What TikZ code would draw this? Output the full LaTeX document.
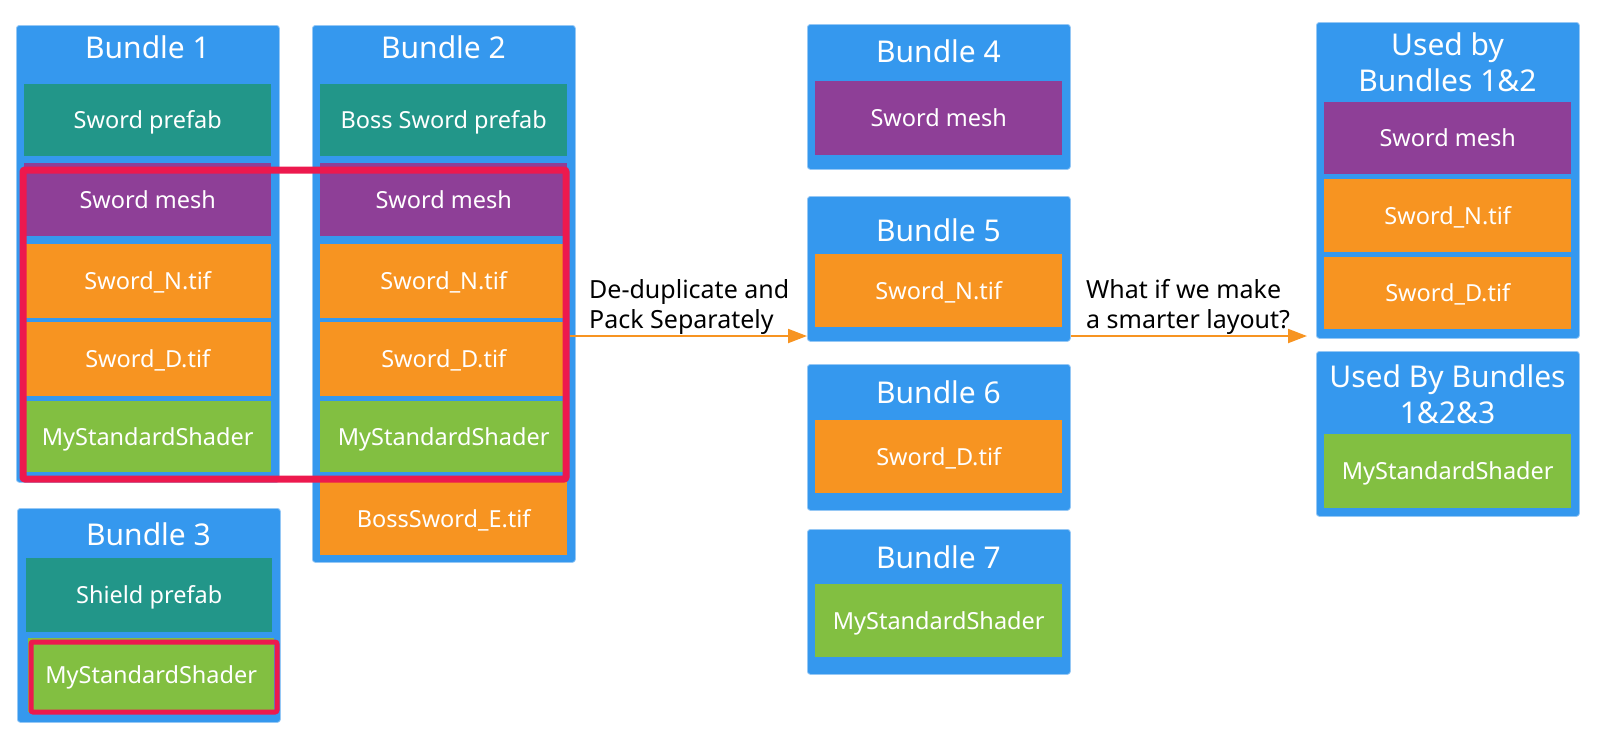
\documentclass[tikz,border=0pt]{standalone}
\usepackage{fontspec}
\setmainfont{Noto Sans}
\usetikzlibrary{arrows.meta}
\definecolor{bblue}{RGB}{53,152,238}
\definecolor{bedge}{RGB}{150,200,245}
\definecolor{cteal}{RGB}{34,150,137}
\definecolor{cpurple}{RGB}{142,63,151}
\definecolor{corange}{RGB}{247,148,33}
\definecolor{cgreen}{RGB}{130,191,65}
\definecolor{cred}{RGB}{237,25,78}
\newcommand\itemf{\fontsize{23.5}{28}\selectfont}
\newcommand\titlef{\fontsize{30}{36}\selectfont}
\newcommand\labelf{\fontsize{25}{30}\selectfont}
\begin{document}
\begin{tikzpicture}[x=1pt,y=-1pt,
  bundle/.style={anchor=north west, inner sep=0pt, fill=bblue, draw=bedge, line width=0.8pt, rounded corners=3pt, minimum width=263pt},
  item/.style={anchor=north west, inner sep=0pt, text=white, font=\itemf, text height=16.8pt, text depth=0pt, minimum width=247pt},
  teal/.style={item, fill=cteal},
  purple/.style={item, fill=cpurple},
  orange/.style={item, fill=corange},
  green/.style={item, fill=cgreen},
  title/.style={anchor=base, inner sep=0pt, text=white, font=\titlef},
  mtitle/.style={anchor=center, inner sep=0pt, text=white, font=\titlef, align=center},
  lbl/.style={anchor=west, inner sep=0pt, text=black, font=\labelf, align=left},
  redbox/.style={anchor=north west, inner sep=0pt, draw=cred, rounded corners=2pt},
  arr/.style={draw=corange, line width=2pt, -{Triangle[length=19pt,width=14pt]}}
]
\useasboundingbox (0,0) rectangle (1599,740);

% ---- Bundle 1
\node[bundle, minimum height=457pt] (b1) at (16,25) {};
\node[title] (b1t) at (147.5,58) {Bundle 1};
\node[teal, minimum height=72pt] (b1a) at (24,84) {Sword prefab};
\node[purple, minimum height=73pt] (b1b) at (24,163) {Sword mesh};
\node[orange, minimum height=74pt] (b1c) at (24,244) {Sword\_N.tif};
\node[orange, minimum height=74pt] (b1d) at (24,322) {Sword\_D.tif};
\node[green, minimum height=71pt] (b1e) at (24,401) {MyStandardShader};

% ---- Bundle 2
\node[bundle, minimum height=537pt] (b2) at (312,25) {};
\node[title] (b2t) at (443.5,58) {Bundle 2};
\node[teal, minimum height=72pt] (b2a) at (320,84) {Boss Sword prefab};
\node[purple, minimum height=73pt] (b2b) at (320,163) {Sword mesh};
\node[orange, minimum height=74pt] (b2c) at (320,244) {Sword\_N.tif};
\node[orange, minimum height=74pt] (b2d) at (320,322) {Sword\_D.tif};
\node[green, minimum height=71pt] (b2e) at (320,401) {MyStandardShader};
\node[orange, minimum height=73pt] (b2f) at (320,482) {BossSword\_E.tif};

% ---- Bundle 3
\node[bundle, minimum height=214pt] (b3) at (17,508) {};
\node[title] (b3t) at (148.5,545.5) {Bundle 3};
\node[teal, minimum height=74pt, minimum width=246pt] (b3a) at (26,558) {Shield prefab};
\node[green, minimum height=74pt, minimum width=246pt] (b3b) at (28,638) {MyStandardShader};

% ---- red highlight boxes
\node[redbox, line width=7pt, minimum width=543pt, minimum height=309pt] (red1) at (19.5,166.5) {};
\node[redbox, line width=5pt, minimum width=246pt, minimum height=70pt] (red2) at (28.5,639.5) {};

% ---- Bundles 4-7
\node[bundle, minimum height=145pt] (b4) at (807,24) {};
\node[title] (b4t) at (938.5,62) {Bundle 4};
\node[purple, minimum height=74pt] (b4a) at (815,81) {Sword mesh};

\node[bundle, minimum height=145pt] (b5) at (807,196) {};
\node[title] (b5t) at (938.5,241.5) {Bundle 5};
\node[orange, minimum height=73pt] (b5a) at (815,254) {Sword\_N.tif};

\node[bundle, minimum height=146pt] (b6) at (807,364) {};
\node[title] (b6t) at (938.5,403) {Bundle 6};
\node[orange, minimum height=73pt] (b6a) at (815,420) {Sword\_D.tif};

\node[bundle, minimum height=145pt] (b7) at (807,529) {};
\node[title] (b7t) at (938.5,568) {Bundle 7};
\node[green, minimum height=73pt] (b7a) at (815,584) {MyStandardShader};

% ---- Shared bundles
\node[bundle, minimum height=316pt] (ua) at (1316,22) {};
\node[mtitle] (uat) at (1447.5,62.5) {Used by\\Bundles 1\&2};
\node[purple, minimum height=72pt] (uaa) at (1324,102) {Sword mesh};
\node[orange, minimum height=73pt] (uab) at (1324,179) {Sword\_N.tif};
\node[orange, minimum height=72pt] (uac) at (1324,257) {Sword\_D.tif};

\node[bundle, minimum height=165pt] (ub) at (1316,351) {};
\node[mtitle] (ubt) at (1447.5,394.5) {Used By Bundles\\1\&2\&3};
\node[green, minimum height=74pt] (uba) at (1324,434) {MyStandardShader};

% ---- connectors
\coordinate (ay) at (0,336);
\draw[arr] (red1.east |- ay) -- (b5.west |- ay);
\draw[arr, shorten >=9pt] (b5.east |- ay) -- (ua.west |- ay);
\node[lbl] (l1) at (589,306.5) {De-duplicate and\\Pack Separately};
\node[lbl] (l2) at (1086,306.5) {What if we make\\a smarter layout?};
\end{tikzpicture}
\end{document}
